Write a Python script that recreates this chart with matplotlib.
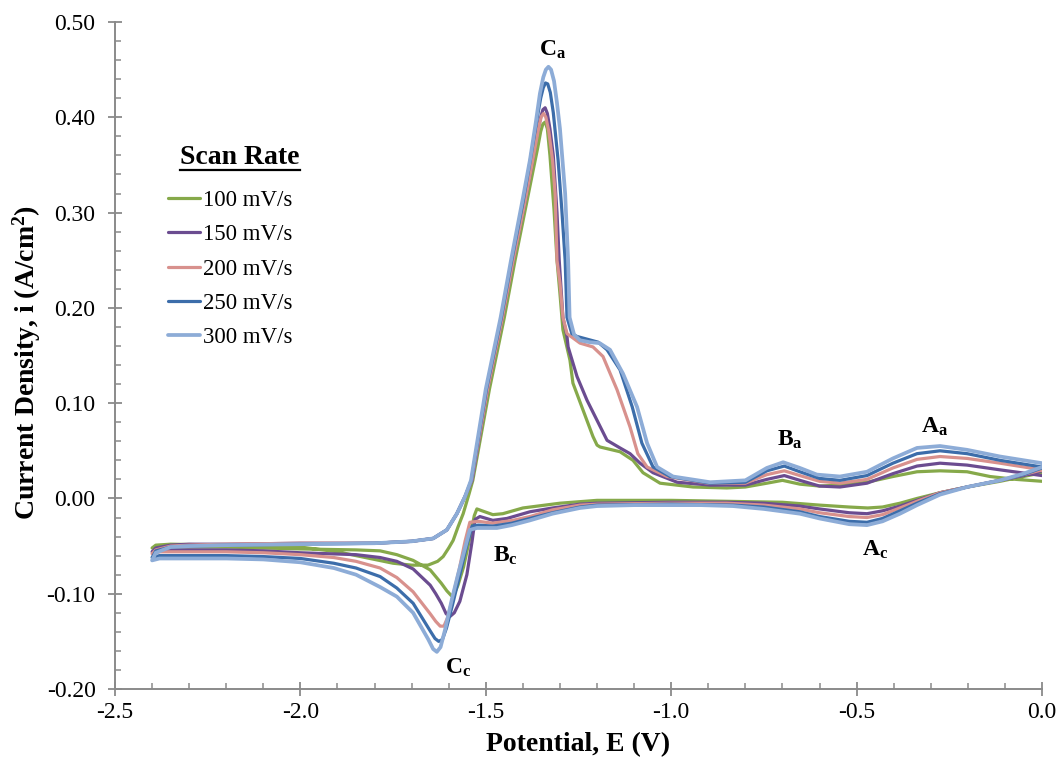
import matplotlib
matplotlib.use('Agg')
import matplotlib.pyplot as plt
from matplotlib.ticker import MultipleLocator, FormatStrFormatter
from matplotlib.lines import Line2D

plt.rcParams['font.family'] = ['Liberation Serif', 'DejaVu Serif']
plt.rcParams['mathtext.fontset'] = 'custom'
plt.rcParams['mathtext.rm'] = 'Liberation Serif'
plt.rcParams['mathtext.bf'] = 'Liberation Serif:bold'
plt.rcParams['mathtext.it'] = 'Liberation Serif:italic'
plt.rcParams['axes.unicode_minus'] = False

# CV loops: cathodic sweep 0 -> -2.4 V, then anodic sweep back to 0 V
E_100 = [0.0, -0.05, -0.113, -0.202, -0.275, -0.337, -0.383, -0.43, -0.47, -0.52,
         -0.60, -0.70, -0.85, -1.0, -1.2, -1.30, -1.40, -1.454, -1.481, -1.51,
         -1.524, -1.531, -1.545, -1.560, -1.575, -1.585, -1.593, -1.605, -1.62, -1.65,
         -1.696, -1.74, -1.785, -1.85, -2.0, -2.1, -2.2, -2.3, -2.38, -2.4,
         -2.39, -2.35, -2.2, -2.0, -1.9, -1.8, -1.75, -1.70, -1.656, -1.63,
         -1.615, -1.60, -1.588, -1.575, -1.561, -1.545, -1.535, -1.49, -1.45, -1.421,
         -1.39, -1.372, -1.36, -1.352, -1.346, -1.340, -1.334, -1.327, -1.316, -1.308,
         -1.300, -1.292, -1.273, -1.265, -1.238, -1.211, -1.200, -1.192, -1.138, -1.103,
         -1.076, -1.030, -0.941, -0.850, -0.80, -0.742, -0.70, -0.653, -0.60, -0.545,
         -0.472, -0.402, -0.337, -0.275, -0.202, -0.14, -0.07, 0.0]
i_100 = [0.027, 0.023, 0.018, 0.012, 0.006, 0.000, -0.005, -0.009, -0.010, -0.009,
         -0.007, -0.004, -0.003, -0.002, -0.002, -0.005, -0.010, -0.016, -0.017, -0.013,
         -0.011, -0.018, -0.045, -0.072, -0.091, -0.100, -0.102, -0.097, -0.089, -0.075,
         -0.065, -0.059, -0.055, -0.054, -0.053, -0.052, -0.051, -0.051, -0.051, -0.052,
         -0.049, -0.048, -0.049, -0.051, -0.056, -0.064, -0.068, -0.070, -0.070, -0.066,
         -0.061, -0.052, -0.044, -0.030, -0.016, 0.005, 0.019, 0.115, 0.190, 0.250,
         0.310, 0.345, 0.368, 0.385, 0.393, 0.395, 0.388, 0.360, 0.303, 0.250,
         0.215, 0.177, 0.145, 0.121, 0.093, 0.065, 0.056, 0.054, 0.049, 0.040,
         0.027, 0.016, 0.012, 0.011, 0.012, 0.016, 0.019, 0.015, 0.013, 0.014,
         0.017, 0.023, 0.028, 0.029, 0.028, 0.023, 0.020, 0.018]

E_150 = [0.0, -0.05, -0.113, -0.202, -0.275, -0.337, -0.383, -0.43, -0.472, -0.52,
         -0.60, -0.653, -0.75, -0.85, -1.0, -1.2, -1.246, -1.32, -1.381, -1.443,
         -1.481, -1.516, -1.529, -1.537, -1.551, -1.570, -1.585, -1.597, -1.607, -1.62,
         -1.635, -1.65, -1.696, -1.74, -1.785, -1.85, -2.0, -2.1, -2.2, -2.3,
         -2.38, -2.4,
         -2.39, -2.35, -2.3, -2.2, -2.0, -1.8, -1.7, -1.642, -1.605, -1.578,
         -1.556, -1.537, -1.495, -1.455, -1.426, -1.395, -1.378, -1.362, -1.352, -1.346,
         -1.340, -1.334, -1.327, -1.318, -1.308, -1.302, -1.292, -1.281, -1.278, -1.254,
         -1.227, -1.200, -1.173, -1.138, -1.111, -1.084, -1.049, -0.984, -0.895, -0.80,
         -0.742, -0.695, -0.653, -0.60, -0.545, -0.472, -0.402, -0.337, -0.275, -0.202,
         -0.113, 0.0]
i_150 = [0.029, 0.024, 0.019, 0.012, 0.006, -0.002, -0.008, -0.013, -0.016, -0.015,
         -0.011, -0.008, -0.005, -0.004, -0.004, -0.005, -0.006, -0.010, -0.014, -0.021,
         -0.023, -0.019, -0.022, -0.045, -0.080, -0.108, -0.120, -0.124, -0.121, -0.110,
         -0.100, -0.091, -0.074, -0.066, -0.062, -0.059, -0.057, -0.055, -0.054, -0.054,
         -0.054, -0.056,
         -0.052, -0.049, -0.048, -0.048, -0.047, -0.047, -0.045, -0.042, -0.033, -0.016,
         0.002, 0.019, 0.115, 0.190, 0.250, 0.310, 0.345, 0.382, 0.400, 0.408,
         0.410, 0.404, 0.388, 0.360, 0.300, 0.250, 0.190, 0.170, 0.159, 0.128,
         0.103, 0.082, 0.061, 0.053, 0.047, 0.037, 0.027, 0.017, 0.014, 0.014,
         0.020, 0.024, 0.019, 0.013, 0.012, 0.016, 0.026, 0.034, 0.037, 0.035,
         0.030, 0.024]

E_200 = [0.0, -0.05, -0.113, -0.202, -0.275, -0.337, -0.383, -0.43, -0.472, -0.52,
         -0.60, -0.653, -0.75, -0.85, -1.0, -1.2, -1.246, -1.32, -1.381, -1.427,
         -1.481, -1.52, -1.543, -1.556, -1.572, -1.59, -1.603, -1.613, -1.623, -1.635,
         -1.65, -1.696, -1.74, -1.785, -1.85, -1.91, -2.0, -2.1, -2.2, -2.3,
         -2.38, -2.4,
         -2.39, -2.35, -2.3, -2.2, -2.0, -1.8, -1.7, -1.642, -1.605, -1.578,
         -1.556, -1.538, -1.495, -1.455, -1.426, -1.395, -1.378, -1.364, -1.356, -1.350,
         -1.344, -1.338, -1.330, -1.320, -1.313, -1.308, -1.300, -1.292, -1.281, -1.246,
         -1.211, -1.184, -1.146, -1.111, -1.090, -1.065, -1.011, -0.90, -0.80, -0.742,
         -0.695, -0.653, -0.60, -0.545, -0.472, -0.402, -0.337, -0.275, -0.202, -0.113,
         0.0]
i_200 = [0.030, 0.025, 0.019, 0.012, 0.006, -0.003, -0.010, -0.017, -0.020, -0.019,
         -0.015, -0.011, -0.007, -0.005, -0.005, -0.006, -0.007, -0.012, -0.019, -0.023,
         -0.026, -0.024, -0.025, -0.045, -0.075, -0.105, -0.125, -0.134, -0.134, -0.129,
         -0.121, -0.098, -0.083, -0.073, -0.066, -0.062, -0.059, -0.057, -0.056, -0.056,
         -0.056, -0.058,
         -0.054, -0.050, -0.049, -0.048, -0.047, -0.047, -0.045, -0.042, -0.033, -0.016,
         0.002, 0.019, 0.115, 0.190, 0.250, 0.310, 0.345, 0.375, 0.392, 0.401,
         0.404, 0.400, 0.385, 0.355, 0.320, 0.250, 0.226, 0.190, 0.173, 0.163,
         0.159, 0.149, 0.114, 0.075, 0.047, 0.033, 0.023, 0.016, 0.016, 0.025,
         0.029, 0.024, 0.018, 0.016, 0.020, 0.032, 0.041, 0.044, 0.042, 0.037,
         0.030]

E_250 = [0.0, -0.05, -0.113, -0.202, -0.275, -0.337, -0.383, -0.43, -0.472, -0.52,
         -0.60, -0.653, -0.75, -0.833, -1.0, -1.2, -1.246, -1.32, -1.381, -1.43,
         -1.481, -1.52, -1.537, -1.552, -1.57, -1.59, -1.606, -1.617, -1.627, -1.637,
         -1.65, -1.696, -1.74, -1.785, -1.85, -1.91, -2.0, -2.1, -2.2, -2.3,
         -2.38, -2.4,
         -2.39, -2.35, -2.3, -2.2, -2.0, -1.8, -1.7, -1.642, -1.605, -1.578,
         -1.556, -1.539, -1.498, -1.458, -1.430, -1.40, -1.38, -1.362, -1.352, -1.345,
         -1.339, -1.333, -1.326, -1.318, -1.305, -1.295, -1.286, -1.281, -1.268, -1.254,
         -1.197, -1.173, -1.138, -1.105, -1.079, -1.049, -1.003, -0.895, -0.80, -0.742,
         -0.695, -0.653, -0.60, -0.545, -0.472, -0.402, -0.337, -0.275, -0.202, -0.113,
         0.0]
i_250 = [0.032, 0.025, 0.019, 0.012, 0.005, -0.005, -0.013, -0.021, -0.025, -0.024,
         -0.019, -0.014, -0.009, -0.007, -0.006, -0.007, -0.009, -0.015, -0.021, -0.026,
         -0.029, -0.028, -0.029, -0.050, -0.080, -0.112, -0.136, -0.148, -0.150, -0.147,
         -0.139, -0.110, -0.094, -0.082, -0.073, -0.068, -0.063, -0.061, -0.060, -0.060,
         -0.060, -0.062,
         -0.055, -0.051, -0.050, -0.049, -0.048, -0.047, -0.045, -0.042, -0.033, -0.016,
         0.002, 0.019, 0.115, 0.190, 0.250, 0.310, 0.355, 0.398, 0.420, 0.431,
         0.436, 0.435, 0.426, 0.405, 0.355, 0.303, 0.250, 0.190, 0.173, 0.170,
         0.164, 0.156, 0.135, 0.096, 0.058, 0.033, 0.023, 0.016, 0.017, 0.029,
         0.034, 0.028, 0.021, 0.019, 0.024, 0.037, 0.047, 0.050, 0.047, 0.040,
         0.033]

E_300 = [0.0, -0.05, -0.113, -0.202, -0.275, -0.337, -0.383, -0.43, -0.472, -0.52,
         -0.60, -0.653, -0.75, -0.833, -0.92, -1.0, -1.1, -1.2, -1.246, -1.32,
         -1.381, -1.43, -1.47, -1.524, -1.543, -1.558, -1.575, -1.591, -1.61, -1.622,
         -1.632, -1.642, -1.655, -1.696, -1.74, -1.785, -1.85, -1.91, -2.0, -2.1,
         -2.2, -2.3, -2.38, -2.4,
         -2.39, -2.35, -2.3, -2.2, -2.0, -1.8, -1.7, -1.642, -1.605, -1.578,
         -1.556, -1.540, -1.50, -1.46, -1.432, -1.40, -1.381, -1.365, -1.354, -1.345,
         -1.338, -1.331, -1.324, -1.316, -1.308, -1.300, -1.286, -1.278, -1.274, -1.262,
         -1.246, -1.22, -1.193, -1.165, -1.130, -1.092, -1.065, -1.038, -0.995, -0.895,
         -0.80, -0.742, -0.698, -0.653, -0.607, -0.545, -0.472, -0.402, -0.337, -0.275,
         -0.202, -0.113, 0.0]
i_300 = [0.033, 0.026, 0.019, 0.012, 0.004, -0.007, -0.016, -0.024, -0.028, -0.027,
         -0.021, -0.016, -0.011, -0.008, -0.007, -0.007, -0.007, -0.008, -0.010, -0.016,
         -0.023, -0.028, -0.031, -0.031, -0.033, -0.055, -0.080, -0.105, -0.138, -0.156,
         -0.161, -0.158, -0.148, -0.120, -0.103, -0.093, -0.080, -0.073, -0.067, -0.064,
         -0.063, -0.063, -0.063, -0.065,
         -0.057, -0.051, -0.050, -0.049, -0.048, -0.047, -0.045, -0.042, -0.033, -0.016,
         0.002, 0.019, 0.115, 0.190, 0.250, 0.315, 0.355, 0.395, 0.425, 0.442,
         0.450, 0.453, 0.450, 0.438, 0.415, 0.388, 0.320, 0.250, 0.190, 0.172,
         0.166, 0.164, 0.163, 0.156, 0.131, 0.096, 0.058, 0.033, 0.023, 0.017,
         0.019, 0.032, 0.038, 0.032, 0.025, 0.023, 0.028, 0.042, 0.053, 0.055,
         0.051, 0.044, 0.037]

rates = ['100 mV/s', '150 mV/s', '200 mV/s', '250 mV/s', '300 mV/s']
colors = ['#86A94A', '#6B4C90', '#D8918D', '#3C6DAA', '#8DACD7']
widths = [2.3, 2.3, 2.3, 2.3, 2.7]

# peak labels (name, subscript, E, i)
peak_names = ['C', 'B', 'A', 'B', 'C', 'A']
peak_subs = ['a', 'a', 'a', 'c', 'c', 'c']
peak_E = [-1.319, -0.680, -0.289, -1.448, -1.575, -0.450]
peak_i = [0.471, 0.061, 0.075, -0.060, -0.178, -0.054]

fig = plt.figure(figsize=(10.6, 7.69), dpi=100)
ax = fig.add_axes([0.1085, 0.104, 0.8745, 0.8674])

loops = [(E_100, i_100), (E_150, i_150), (E_200, i_200), (E_250, i_250), (E_300, i_300)]
for (E, cur), lab, c, w in zip(loops, rates, colors, widths):
    ax.plot(E, cur, color=c, lw=w, label=lab, solid_joinstyle='round', solid_capstyle='round')

for n, s, x, y in zip(peak_names, peak_subs, peak_E, peak_i):
    ax.text(x, y, r'$\mathbf{%s}_{\mathbf{%s}}$' % (n, s), fontsize=17, ha='center', va='center')

ax.set_xlim(-2.5, 0.0)
ax.set_ylim(-0.20, 0.50)
ax.xaxis.set_major_locator(MultipleLocator(0.5))
ax.xaxis.set_minor_locator(MultipleLocator(0.1))
ax.yaxis.set_major_locator(MultipleLocator(0.1))
ax.yaxis.set_minor_locator(MultipleLocator(0.02))
ax.xaxis.set_major_formatter(FormatStrFormatter('%.1f'))
ax.yaxis.set_major_formatter(FormatStrFormatter('%.2f'))

for side in ['top', 'right']:
    ax.spines[side].set_visible(False)
for side in ['left', 'bottom']:
    ax.spines[side].set_color('#8a8a8a')
    ax.spines[side].set_linewidth(1.4)
ax.tick_params(which='major', direction='inout', length=10, width=1.3, color='#8a8a8a',
               labelsize=17, labelcolor='black', labelfontfamily='Liberation Serif')
ax.tick_params(axis='x', which='major', pad=4)
ax.tick_params(axis='y', which='major', pad=9)
ax.tick_params(which='minor', direction='in', length=4, width=1.1, color='#8a8a8a')

fig.text(578 / 1060, 1 - 745 / 769, 'Potential, E (V)', fontsize=20, fontweight='bold',
         ha='center', va='center')
fig.text(27 / 1060, 1 - 362 / 769, r'Current Density, i (A/cm$^{\mathbf{2}}$)', fontsize=20,
         fontweight='bold', rotation=90, ha='center', va='center')

leg = ax.legend(loc='upper left', bbox_to_anchor=(168 / 1060, 1 - 190 / 769), bbox_transform=fig.transFigure,
                frameon=False, fontsize=16.5, handlelength=1.4, handletextpad=0.13, labelspacing=0.58,
                borderpad=0, borderaxespad=0)

# legend heading, underlined
title = fig.text(180 / 1060, 1 - 157 / 769, 'Scan Rate', fontsize=20, fontweight='bold', ha='left', va='center')
fig.canvas.draw()
bb = title.get_window_extent().transformed(fig.transFigure.inverted())
fig.add_artist(Line2D([bb.x0, bb.x1], [bb.y0 - 0.001, bb.y0 - 0.001], transform=fig.transFigure,
                      color='black', lw=1.6))

fig.savefig('out.png', dpi=100)
